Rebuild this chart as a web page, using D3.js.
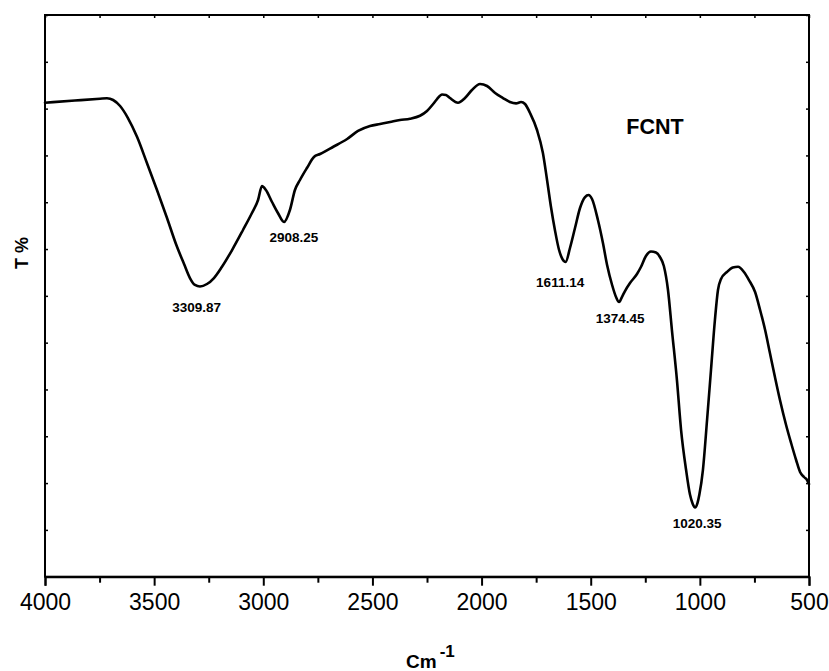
<!DOCTYPE html>
<html>
<head>
<meta charset="utf-8">
<script src="https://cdn.jsdelivr.net/npm/d3@7"></script>
<style>
  html, body { margin: 0; padding: 0; background: #fff; }
  svg { display: block; }
</style>
</head>
<body>
<svg id="chart" width="829" height="671"></svg>
<script>
// wavenumber (cm^-1) of each traced point
const wavenumbers = [4000, 3863, 3748, 3716, 3688, 3656, 3620, 3578, 3533, 3487, 3441, 3400, 3363, 3336, 3313, 3290, 3258, 3226, 3190, 3143, 3093, 3052, 3024, 3006, 2988, 2960, 2933, 2905, 2878, 2855, 2832, 2800, 2768, 2740, 2681, 2616, 2566, 2511, 2465, 2419, 2374, 2328, 2282, 2250, 2222, 2204, 2181, 2163, 2145, 2108, 2076, 2044, 2007, 1975, 1938, 1902, 1870, 1842, 1819, 1801, 1778, 1746, 1719, 1700, 1682, 1664, 1645, 1630, 1615, 1595, 1572, 1549, 1526, 1510, 1494, 1467, 1444, 1425, 1402, 1384, 1370, 1357, 1343, 1320, 1288, 1270, 1247, 1224, 1201, 1183, 1165, 1146, 1128, 1105, 1086, 1063, 1045, 1033, 1022, 1011, 1002, 986, 967, 949, 931, 917, 903, 876, 849, 825, 798, 775, 747, 724, 701, 679, 656, 633, 605, 582, 559, 541, 523, 509, 500];
// transmittance (arbitrary units, 0-120)
const transmittance = [101.26, 101.73, 102.11, 102.20, 101.84, 100.56, 97.99, 93.93, 88.38, 82.61, 76.63, 71.07, 66.80, 63.81, 62.32, 62.00, 62.53, 63.81, 66.16, 69.79, 74.07, 77.70, 80.47, 83.47, 82.61, 80.05, 77.70, 75.78, 78.34, 82.61, 84.75, 87.31, 89.66, 90.30, 91.80, 93.51, 95.22, 96.28, 96.71, 97.14, 97.56, 97.84, 98.48, 99.49, 100.98, 102.05, 103.01, 102.91, 102.26, 101.26, 102.26, 103.97, 105.26, 104.83, 103.33, 102.26, 101.41, 101.13, 101.41, 100.98, 99.06, 95.43, 90.51, 84.75, 78.98, 74.07, 69.79, 67.90, 67.23, 70.22, 74.49, 78.77, 81.11, 81.54, 80.69, 76.20, 71.29, 66.59, 62.32, 59.75, 58.68, 59.75, 61.03, 62.74, 64.67, 66.16, 68.51, 69.47, 69.26, 68.30, 66.37, 61.25, 52.70, 42.02, 31.34, 22.79, 17.50, 15.60, 14.78, 15.70, 17.60, 22.79, 33.48, 44.16, 54.84, 61.25, 63.60, 65.09, 66.05, 66.23, 65.09, 63.38, 60.82, 56.98, 52.70, 47.79, 42.66, 37.75, 32.41, 28.56, 24.93, 22.37, 21.30, 20.66, 19.80];

const peakLabels = ["3309.87", "2908.25", "1611.14", "1374.45", "1020.35"];
const peakLabelX = [3305, 2860, 1640, 1365, 1012];   // label centre (cm^-1)
const peakLabelY = [56.5, 71.4, 61.9, 54.2, 10.3];   // label baseline (T units)

const xTickValues = [4000, 3500, 3000, 2500, 2000, 1500, 1000, 500];
const xMinorTickValues = [3750, 3250, 2750, 2250, 1750, 1250, 750];
const yTickValues = [0, 10, 20, 30, 40, 50, 60, 70, 80, 90, 100, 110, 120];
const seriesName = "FCNT";
const xTitle = "Cm";
const xTitleSup = "-1";
const yTitle = "T %";

(function () {
const svg = d3.select("#chart");
const L = 45, R = 809, T = 15, B = 576.7;
const x = d3.scaleLinear().domain([4000, 500]).range([L, R]);
const y = d3.scaleLinear().domain([0, 120]).range([B, T]);
const FONT = "'Liberation Sans', Arial, Helvetica, sans-serif";

// frame
svg.append("rect").attr("x", L).attr("y", T).attr("width", R - L).attr("height", B - T)
  .attr("fill", "none").attr("stroke", "#000").attr("stroke-width", 2);

// bottom axis: major
const gBottom = svg.append("g").attr("transform", `translate(0,${B})`)
  .call(d3.axisBottom(x).tickValues(xTickValues).tickSize(9).tickPadding(8).tickFormat(d3.format("d")));
gBottom.select(".domain").attr("stroke-width", 2);
gBottom.selectAll(".tick line").attr("stroke-width", 2);
gBottom.selectAll(".tick text").attr("font-family", FONT).attr("font-size", 23).attr("fill", "#000");
// bottom minor
const gBottomMinor = svg.append("g").attr("transform", `translate(0,${B})`)
  .call(d3.axisBottom(x).tickValues(xMinorTickValues).tickSize(6).tickFormat(""));
gBottomMinor.select(".domain").remove();
gBottomMinor.selectAll(".tick line").attr("stroke-width", 2);

// top axis (inward ticks)
const gTop = svg.append("g").attr("transform", `translate(0,${T})`)
  .call(d3.axisBottom(x).tickValues(xMinorTickValues.concat(xTickValues)).tickSize(3).tickFormat(""));
gTop.select(".domain").remove();
gTop.selectAll(".tick line").attr("stroke-width", 1.5);

// left axis (inward ticks)
const gLeft = svg.append("g").attr("transform", `translate(${L},0)`)
  .call(d3.axisRight(y).tickValues(yTickValues).tickSize(3).tickFormat(""));
gLeft.select(".domain").remove();
gLeft.selectAll(".tick line").attr("stroke-width", 1.5);

// right axis (inward ticks)
const gRight = svg.append("g").attr("transform", `translate(${R},0)`)
  .call(d3.axisLeft(y).tickValues(yTickValues).tickSize(3).tickFormat(""));
gRight.select(".domain").remove();
gRight.selectAll(".tick line").attr("stroke-width", 1.5);

// spectrum line
const data = wavenumbers.map((w, i) => ({ w, t: transmittance[i] }));
const line = d3.line().x(d => x(d.w)).y(d => y(d.t)).curve(d3.curveMonotoneX);
svg.append("path").datum(data).attr("d", line)
  .attr("fill", "none").attr("stroke", "#000").attr("stroke-width", 2.6)
  .attr("stroke-linejoin", "round").attr("stroke-linecap", "round");

// peak labels
svg.append("g").selectAll("text").data(peakLabels).join("text")
  .attr("x", (d, i) => x(peakLabelX[i]))
  .attr("y", (d, i) => y(peakLabelY[i]))
  .attr("text-anchor", "middle")
  .attr("font-family", FONT).attr("font-weight", "bold").attr("font-size", 13.5)
  .attr("fill", "#000")
  .text(d => d);

// series label
svg.append("text").attr("x", 655).attr("y", 134.3).attr("text-anchor", "middle")
  .attr("font-family", FONT).attr("font-weight", "bold").attr("font-size", 21.5)
  .text(seriesName);

// x title
const xt = svg.append("text").attr("x", 406).attr("y", 668)
  .attr("font-family", FONT).attr("font-weight", "bold").attr("font-size", 19);
xt.append("tspan").text(xTitle);
xt.append("tspan").attr("dx", 3).attr("dy", -11).attr("font-size", 17).text(xTitleSup);

// y title
svg.append("text")
  .attr("transform", "translate(28,253) rotate(-90)")
  .attr("text-anchor", "middle")
  .attr("font-family", FONT).attr("font-weight", "bold").attr("font-size", 18)
  .text(yTitle);
})();
</script>
</body>
</html>
